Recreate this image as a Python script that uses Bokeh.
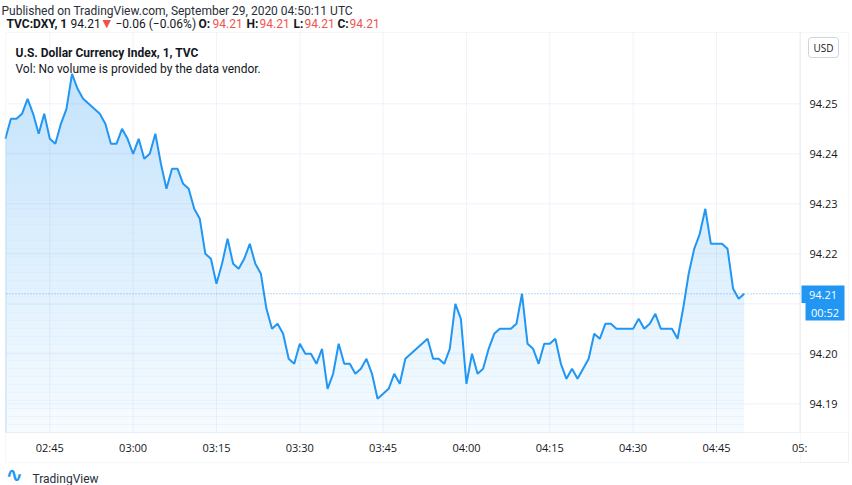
import numpy as np
from bokeh.plotting import figure
from bokeh.models import FixedTicker, Label, NumeralTickFormatter, Range1d, BoxAnnotation
from bokeh.embed import file_html
from bokeh.resources import INLINE

# ---------------- data ----------------
start_minute = 2 * 60 + 37          # first bar: 02:37 UTC, 1-minute bars
values = [
    94.243, 94.247, 94.247, 94.248, 94.251, 94.248, 94.244, 94.248, 94.243, 94.242,
    94.246, 94.249, 94.256, 94.253, 94.251, 94.250, 94.249, 94.248, 94.246, 94.242,
    94.242, 94.245, 94.243, 94.240, 94.243, 94.239, 94.240, 94.244, 94.238, 94.233,
    94.237, 94.237, 94.234, 94.233, 94.229, 94.227, 94.220, 94.219, 94.214, 94.218,
    94.223, 94.218, 94.217, 94.219, 94.222, 94.218, 94.216, 94.209, 94.205, 94.206,
    94.204, 94.199, 94.198, 94.202, 94.200, 94.200, 94.198, 94.201, 94.193, 94.196,
    94.202, 94.198, 94.198, 94.196, 94.197, 94.199, 94.196, 94.191, 94.192, 94.193,
    94.196, 94.194, 94.199, 94.200, 94.201, 94.202, 94.203, 94.199, 94.199, 94.198,
    94.201, 94.210, 94.207, 94.194, 94.200, 94.196, 94.197, 94.201, 94.204, 94.205,
    94.205, 94.205, 94.206, 94.212, 94.202, 94.201, 94.198, 94.202, 94.202, 94.203,
    94.198, 94.195, 94.197, 94.195, 94.197, 94.199, 94.204, 94.203, 94.206, 94.206,
    94.205, 94.205, 94.205, 94.205, 94.207, 94.205, 94.206, 94.208, 94.205, 94.205,
    94.205, 94.203, 94.209, 94.216, 94.221, 94.224, 94.229, 94.222, 94.222, 94.222,
    94.221, 94.213, 94.211, 94.212,
]
tick_minutes = [165, 180, 195, 210, 225, 240, 255, 270, 285, 300]
tick_labels = ["02:45", "03:00", "03:15", "03:30", "03:45", "04:00", "04:15", "04:30", "04:45", "05:"]
price_ticks = [94.19, 94.20, 94.21, 94.22, 94.23, 94.24, 94.25]
countdown = "00:52"

minutes = np.arange(len(values)) + start_minute

# ---------------- geometry helpers (page pixel -> data) ----------------
PX_PER_MIN = 83.33 / 15.0
PX_PER_UNIT = 5000.0
def rx(px):
    return 165 + (px - 49.3) / PX_PER_MIN
def ry(py):
    return 94.25 - (py - 103.3) / PX_PER_UNIT

FONT = "Roboto"
AXFONT = "Open Sans"
TXT = "#131722"
BLUE = "#2196f3"
RED = "#ef5350"
BORDER = "#e0e3eb"
W, H = 852, 485

# pane (plot area) in page pixels
PL, PR, PT, PB = 6, 800, 32, 432

p = figure(width=W, height=H, output_backend="svg", toolbar_location=None,
           x_range=Range1d(rx(0), rx(W)), y_range=Range1d(ry(H), ry(0)),
           y_axis_location="right", min_border=0,
           min_border_left=0, min_border_right=0, min_border_top=0, min_border_bottom=0)
p.outline_line_color = None
p.background_fill_color = "white"
p.border_fill_color = "white"
p.xgrid.visible = False
p.ygrid.visible = False

# axes (drawn at the pane edges)
xa = p.xaxis[0]
xa.fixed_location = ry(PB)
xa.ticker = FixedTicker(ticks=tick_minutes)
xa.major_label_overrides = dict(zip(tick_minutes, tick_labels))
xa.axis_line_color = None
xa.major_tick_line_color = None
xa.minor_tick_line_color = None
xa.major_tick_out = 0
xa.major_tick_in = 0
xa.major_label_standoff = 7
xa.major_label_text_font = AXFONT
xa.major_label_text_font_size = "11px"
xa.major_label_text_color = TXT

ya = p.yaxis[0]
ya.fixed_location = rx(PR)
ya.ticker = FixedTicker(ticks=price_ticks)
ya.formatter = NumeralTickFormatter(format="0.00")
ya.axis_line_color = None
ya.major_tick_line_color = None
ya.minor_tick_line_color = None
ya.major_tick_out = 0
ya.major_tick_in = 0
ya.major_label_standoff = 9
ya.major_label_text_font = AXFONT
ya.major_label_text_font_size = "11px"
ya.major_label_text_color = TXT

# area with vertical gradient (flat fill + white fading bands)
p.varea(x=minutes, y1=ry(PB), y2=values, fill_color=BLUE, fill_alpha=0.29)
n_bands = 50
edges = np.linspace(ry(PT), ry(PB), n_bands + 1)
frac = (np.arange(n_bands) + 0.5) / n_bands
target = 0.29 - 0.25 * frac
p.quad(left=rx(PL), right=rx(PR), top=edges[:-1], bottom=edges[1:],
       fill_color="white", fill_alpha=1 - target / 0.29, line_color=None)

# grid lines at the axis ticks
p.segment(x0=rx(PL), x1=rx(PR), y0=price_ticks, y1=price_ticks,
          line_color="#0537ac", line_alpha=0.06, line_width=1)
p.segment(x0=tick_minutes, x1=tick_minutes, y0=ry(PB), y1=ry(PT),
          line_color="#0537ac", line_alpha=0.06, line_width=1)

# last price dotted line
p.segment(x0=rx(PL), x1=rx(PR), y0=values[-1], y1=values[-1],
          line_color=BLUE, line_dash="1 2", line_width=1, line_alpha=0.7)

# price line
p.line(minutes, values, line_color=BLUE, line_width=2)

# panel borders
for l, r, t, b in ((5, PR, PT, PB), (PR, 848, PT, 462), (5, 848, PB, 462)):
    p.add_layout(BoxAnnotation(left=rx(l), right=rx(r), top=ry(t), bottom=ry(b),
                               fill_alpha=0, line_color=BORDER, line_width=1))

# last-price and countdown boxes on the price scale
for l, r, t, b in ((801, 844, 285, 302.5), (805, 844, 302.5, 320)):
    p.add_layout(BoxAnnotation(left=rx(l), right=rx(r), top=ry(t), bottom=ry(b),
                               fill_color=BLUE, fill_alpha=1, line_color=None))

def lab(text, x, y, size="12px", color=TXT, style="normal", align="left",
        baseline="alphabetic", font=FONT, **kw):
    p.add_layout(Label(x=rx(x), y=ry(y), text=text, text_font=font, text_font_size=size,
                       text_color=color, text_font_style=style, text_align=align,
                       text_baseline=baseline, **kw))

last = f"{values[-1]:.2f}"
change = "\u22120.06 (\u22120.06%)"

lab("Published on TradingView.com, September 29, 2020 04:50:11 UTC", 1, 10, color="#2a2e39")
hy = 23
lab("TVC:DXY, 1", 6, hy, style="bold")
lab(last, 70, hy)
lab("\u25bc", 102, hy, color=RED, size="11px", font="DejaVu Sans")
lab(change, 115, hy)
for name, xn, xv in (("O:", 198, 212), ("H:", 246, 259), ("L:", 293, 304), ("C:", 337, 349)):
    lab(name, xn, hy, style="bold")
    lab(last, xv, hy, color=RED)

lab("U.S. Dollar Currency Index, 1, TVC", 15, 52, style="bold")
lab("Vol: No volume is provided by the data vendor.", 15, 68)

lab("USD", 823, 47, size="10px", align="center", baseline="middle", font=AXFONT,
    border_line_color="#d1d4dc", border_radius=3, padding=(5, 3))
lab(last, 822.5, 294, size="11px", color="white", align="center", baseline="middle", font=AXFONT)
lab(countdown, 824.5, 311.5, size="11px", color="white", align="center", baseline="middle", font=AXFONT)

lab("\u223f", 5, 474, size="21px", color=BLUE, style="bold", baseline="middle", font="DejaVu Sans")
lab("TradingView", 32, 478, size="12px", color="#2a2e39")

open("out.html", "w").write(file_html(p, INLINE))
